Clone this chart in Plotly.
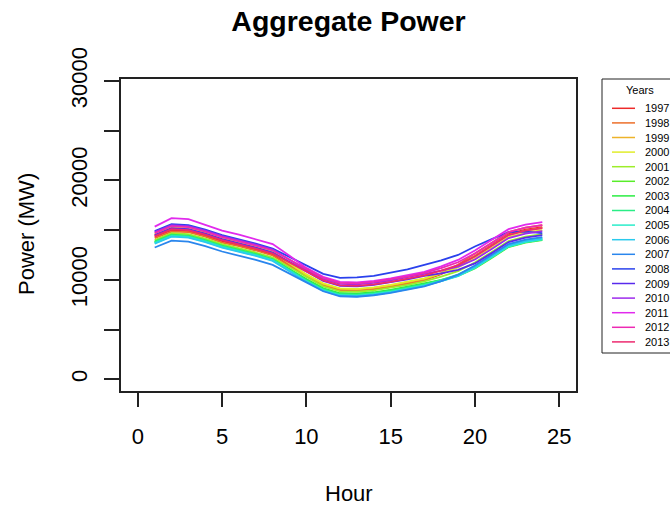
import colorsys
import plotly.graph_objects as go

hours = list(range(1, 25))
years = [str(y) for y in range(1997, 2014)]

p1997 = [14350, 15000, 14900, 14450, 13900, 13500, 13050, 12550, 11500, 10400, 9500, 9000, 8950, 9100, 9350, 9650, 10000, 10580, 11400, 12400, 13500, 14600, 15050, 15300]
p1998 = [14200, 14850, 14800, 14350, 13750, 13400, 12950, 12450, 11420, 10350, 9450, 8950, 8900, 9050, 9300, 9600, 9950, 10680, 11520, 12650, 13700, 14800, 15250, 15500]
p1999 = [14500, 15200, 15100, 14650, 14100, 13700, 13250, 12750, 11650, 10500, 9600, 9100, 9050, 9200, 9450, 9750, 10100, 10680, 11370, 12350, 13400, 14500, 14950, 15200]
p2000 = [14600, 15300, 15200, 14750, 14200, 13800, 13350, 12850, 11720, 10550, 9650, 9150, 9100, 9250, 9500, 9800, 10150, 10650, 11250, 12150, 13200, 14300, 14750, 15000]
p2001 = [14000, 14700, 14600, 14150, 13600, 13200, 12750, 12250, 11280, 10250, 9350, 8850, 8800, 8950, 9200, 9500, 9850, 10320, 10880, 11750, 12800, 13900, 14350, 14600]
p2002 = [13750, 14450, 14350, 13900, 13350, 12950, 12500, 12000, 11030, 10000, 9100, 8600, 8550, 8700, 8950, 9250, 9600, 9950, 10400, 11150, 12200, 13300, 13750, 14000]
p2003 = [13850, 14550, 14450, 14000, 13450, 13050, 12600, 12100, 11100, 10050, 9150, 8650, 8600, 8750, 9000, 9300, 9650, 10000, 10450, 11200, 12250, 13350, 13800, 14050]
p2004 = [13800, 14500, 14400, 13950, 13400, 13000, 12550, 12050, 11030, 9950, 9050, 8550, 8500, 8650, 8900, 9200, 9550, 9980, 10520, 11350, 12400, 13500, 13950, 14200]
p2005 = [13700, 14400, 14300, 13850, 13300, 12900, 12450, 11950, 10930, 9850, 8950, 8450, 8400, 8550, 8800, 9100, 9450, 9870, 10370, 11200, 12250, 13350, 13800, 14050]
p2006 = [13650, 14350, 14250, 13800, 13250, 12850, 12400, 11900, 10880, 9800, 8900, 8400, 8350, 8500, 8750, 9050, 9400, 9870, 10430, 11300, 12350, 13450, 13900, 14150]
p2007 = [13250, 13950, 13850, 13400, 12850, 12450, 12000, 11500, 10650, 9750, 8850, 8350, 8300, 8450, 8700, 9000, 9350, 9880, 10520, 11450, 12500, 13600, 14050, 14300]
p2008 = [14900, 15600, 15500, 15050, 14500, 14100, 13650, 13150, 12300, 11400, 10600, 10200, 10250, 10400, 10700, 11050, 11500, 11950, 12500, 13350, 14100, 14800, 14850, 14700]
p2009 = [14500, 15200, 15100, 14650, 14100, 13700, 13250, 12750, 11800, 10800, 9900, 9400, 9350, 9500, 9750, 10050, 10400, 10650, 11000, 11650, 12700, 13800, 14250, 14500]
p2010 = [14800, 15500, 15400, 14950, 14400, 14000, 13550, 13050, 12050, 11000, 10100, 9600, 9550, 9700, 9950, 10250, 10600, 10920, 11330, 12050, 13100, 14200, 14650, 14900]
p2011 = [15350, 16200, 16100, 15500, 14950, 14550, 14100, 13600, 12430, 11200, 10300, 9800, 9750, 9900, 10150, 10450, 10800, 11350, 12000, 12950, 14000, 15100, 15550, 15800]
p2012 = [14700, 15400, 15300, 14850, 14300, 13900, 13450, 12950, 12050, 11100, 10200, 9700, 9650, 9800, 10050, 10350, 10700, 11180, 11770, 12650, 13700, 14800, 15250, 15500]
p2013 = [14400, 15100, 15000, 14550, 14000, 13600, 13150, 12650, 11780, 10850, 9950, 9450, 9400, 9550, 9800, 10100, 10450, 10920, 11480, 12350, 13400, 14500, 14950, 15200]

series = [p1997, p1998, p1999, p2000, p2001, p2002, p2003, p2004, p2005,
          p2006, p2007, p2008, p2009, p2010, p2011, p2012, p2013]

y_tickvals = [0, 5000, 10000, 15000, 20000, 25000, 30000]
y_ticktext = ["0", "", "10000", "", "20000", "", "30000"]
x_tickvals = [0, 5, 10, 15, 20, 25]

# rainbow palette (style)
colors = []
for i in range(len(years)):
    r, g, b = colorsys.hsv_to_rgb(i / len(years), 0.82, 0.93)
    colors.append(f"rgb({int(r*255)},{int(g*255)},{int(b*255)})")

FONT = "Liberation Sans, Arial, Helvetica, sans-serif"
W, H = 670, 508
L, R, T, B = 121, 576, 79, 391


def px(xp):
    return (xp - L) / (R - L)


def py(yp):
    return (B - yp) / (B - T)


fig = go.Figure()
for yr, vals, col in zip(years, series, colors):
    fig.add_trace(go.Scatter(x=hours, y=vals, mode="lines", name=yr,
                             line=dict(color=col, width=1.8), showlegend=False))

# manual legend (R style)
shapes = [dict(type="rect", xref="paper", yref="paper",
               x0=px(602), x1=px(720), y0=py(353), y1=py(79),
               line=dict(color="#222", width=1), fillcolor="white", layer="below")]
annotations = [dict(text="Years", xref="paper", yref="paper", x=px(640), y=py(90),
                    showarrow=False, font=dict(size=11, family=FONT, color="black"),
                    xanchor="center", yanchor="middle")]
for i, (yr, col) in enumerate(zip(years, colors)):
    yy = 108.3 + i * 14.6
    shapes.append(dict(type="line", xref="paper", yref="paper",
                       x0=px(612), x1=px(635), y0=py(yy), y1=py(yy),
                       line=dict(color=col, width=1.5)))
    annotations.append(dict(text=yr, xref="paper", yref="paper", x=px(643), y=py(yy),
                            showarrow=False, font=dict(size=11, family=FONT, color="black"),
                            xanchor="left", yanchor="middle"))

annotations.append(dict(text="Hour", xref="paper", yref="paper", x=0.5, y=py(493),
                        showarrow=False, font=dict(size=22, family=FONT, color="black"),
                        xanchor="center", yanchor="middle"))
annotations.append(dict(text="Power (MW)", xref="paper", yref="paper", x=px(26), y=py(234),
                        showarrow=False, textangle=-90,
                        font=dict(size=22, family=FONT, color="black"),
                        xanchor="center", yanchor="middle"))

fig.update_layout(
    width=W, height=H,
    margin=dict(l=L, r=W - R, t=T, b=H - B),
    paper_bgcolor="white", plot_bgcolor="white",
    font=dict(family=FONT, color="black"),
    title=dict(text="<b>Aggregate Power</b>", x=0.5, xref="paper",
               y=1 - 21 / H, yref="container", xanchor="center", yanchor="middle",
               font=dict(size=28.5, family=FONT, color="black")),
    shapes=shapes,
    annotations=annotations,
    xaxis=dict(range=[-1, 26], tickvals=x_tickvals, ticks="outside", ticklen=14,
               tickwidth=1.5, tickcolor="#222", showline=True, mirror=True,
               linecolor="#222", linewidth=1.5, showgrid=False, zeroline=False,
               tickfont=dict(size=22, family=FONT, color="black"),
               ticklabelstandoff=11),
    yaxis=dict(range=[-1180, 30200], tickvals=y_tickvals, ticktext=y_ticktext,
               ticks="outside", ticklen=15, tickwidth=1.5, tickcolor="#222",
               showline=True, mirror=True, linecolor="#222", linewidth=1.5,
               showgrid=False, zeroline=False, tickangle=-90,
               tickfont=dict(size=22, family=FONT, color="black"),
               ticklabelstandoff=8),
)

fig.write_html("out.html", config={"displayModeBar": False},
               post_script="document.body.style.margin='0';document.body.style.overflow='hidden';")
